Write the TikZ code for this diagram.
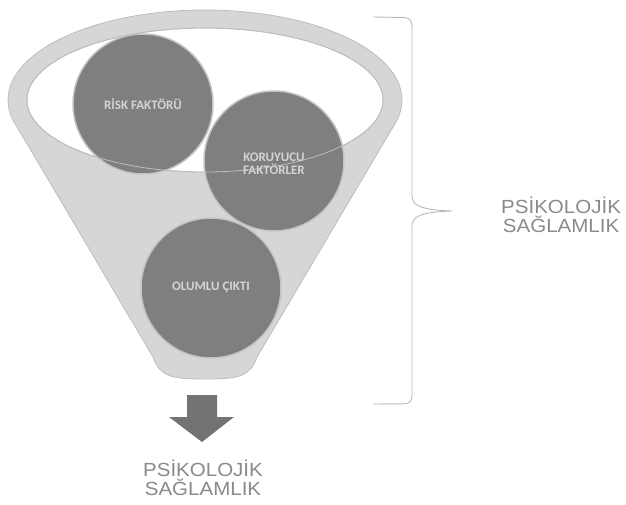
\documentclass[tikz,border=0pt]{standalone}
\usepackage{fontspec}
\setmainfont{Liberation Sans}
\newfontfamily\labfont[FakeStretch=1.08]{Liberation Sans}
\newfontfamily\circfont{Carlito}
\definecolor{conegray}{HTML}{D6D6D6}
\definecolor{coneline}{HTML}{BDBDBD}
\definecolor{ballgray}{HTML}{7F7F7F}
\definecolor{ballline}{HTML}{C4C4C4}
\definecolor{balltext}{HTML}{D4D4D4}
\definecolor{arrowgray}{HTML}{737373}
\definecolor{labelgray}{HTML}{8A8A8A}
\definecolor{bracegray}{HTML}{B8B8B8}
\begin{document}
\begin{tikzpicture}[x=1pt,y=-1pt,
  ball/.style={circle, minimum size=140pt, inner sep=0pt, fill=ballgray, draw=ballline, line width=1.5pt},
  balltxt/.style={text=balltext, font=\circfont\bfseries\fontsize{13}{13}\selectfont, align=center},
  bigtxt/.style={text=labelgray, font=\labfont\fontsize{19}{18.5}\selectfont, align=center, inner sep=0pt}]
\useasboundingbox (0,0) rectangle (626,505);
% funnel body
\path[fill=conegray, draw=coneline, line width=0.8pt] (14,121.8) -- (153,357)
  .. controls (160,378) and (175,379) .. (205,379) .. controls (235,379) and (250,378) .. (257,357)
  -- (396.1,121.8)
  arc[start angle=14, end angle=-194, x radius=197, y radius=90] -- cycle;
% opening
\path[fill=white, draw=coneline, line width=0.8pt] (205,100) ellipse [x radius=178, y radius=72];
% balls
\node[ball] (risk) at (143,104) {};
\node[ball] (koru) at (274,161) {};
\node[ball] (olum) at (211,288) {};
% rim line over the balls
\draw[coneline, line width=0.8pt] (205,100) ellipse [x radius=178, y radius=72];
\node[balltxt] at (risk.center) {RİSK FAKTÖRÜ};
\node[balltxt] at ([yshift=-3pt]koru.center) {KORUYUCU\\FAKTÖRLER};
\node[balltxt] at ([yshift=1pt]olum.center) {OLUMLU ÇIKTI};
% arrow
\path[fill=arrowgray] (187,395) -- (217,395) -- (217,417) -- (234,417) -- (202,442) -- (169,417) -- (187,417) -- cycle;
\node[bigtxt] (bottomlab) at (203,478) {PSİKOLOJİK\\SAĞLAMLIK};
% brace
\coordinate (btop) at (373,17);
\coordinate (bbot) at (373,404);
\coordinate (btip) at (452,211);
\draw[bracegray, line width=0.9pt] (btop) -- (404,17.5) .. controls (410,18) and (412,21) .. (412,27) -- (412,196) .. controls (412,205) and (420,210) .. (btip) .. controls (420,212) and (412,217) .. (412,226) -- (412,395) .. controls (412,401) and (410,403.5) .. (404,403.8) -- (bbot);
\node[bigtxt, anchor=west] (rightlab) at (501,215) {PSİKOLOJİK\\SAĞLAMLIK};
\end{tikzpicture}
\end{document}
